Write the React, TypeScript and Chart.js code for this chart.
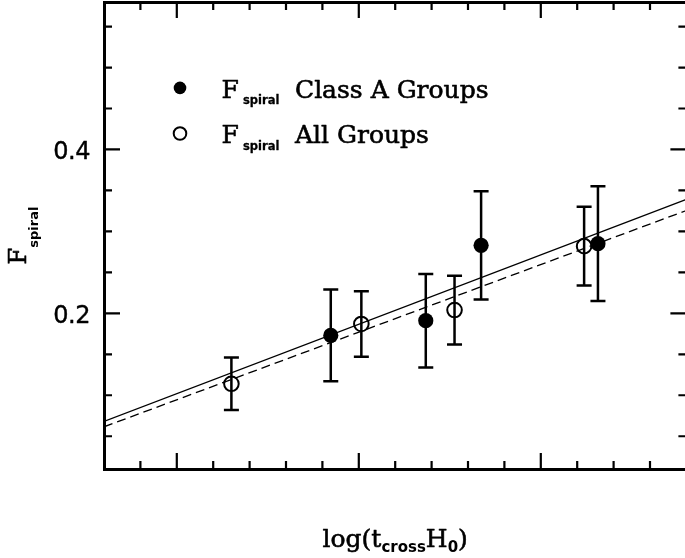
import React, { useEffect, useRef } from "react";
import { Chart, registerables } from "chart.js";

Chart.register(...registerables);

// ---- data ----
const CLASS_A_X = [-1.577, -1.316, -1.164, -0.843];
const CLASS_A_Y = [0.173, 0.191, 0.283, 0.285];
const CLASS_A_ERR = [0.056, 0.057, 0.066, 0.07];

const ALL_X = [-1.85, -1.493, -1.237, -0.881];
const ALL_Y = [0.114, 0.187, 0.204, 0.282];
const ALL_ERR = [0.032, 0.04, 0.042, 0.048];

const FIT_X = [-2.2, -0.6];
const FIT_SOLID_Y = [0.068, 0.339];
const FIT_DASHED_Y = [0.0615, 0.3255];

const X_RANGE = [-2.2, -0.6];
const Y_RANGE = [0.01, 0.58];
const X_MINOR_TICKS = [-2.1, -1.9, -1.8, -1.7, -1.6, -1.4, -1.3, -1.2, -1.1, -0.9, -0.8, -0.7];
const X_MAJOR_TICKS = [-2.0, -1.5, -1.0];
const Y_MINOR_TICKS = [0.05, 0.1, 0.15, 0.25, 0.3, 0.35, 0.45, 0.5, 0.55];
const Y_MAJOR_TICKS = [0.2, 0.4];
const Y_TICK_LABELS = ["0.2", "0.4"];

const LEGEND_LABELS = ["Class A Groups", "All Groups"];
const SYMBOL_NAME = "F";
const SYMBOL_SUB = "spiral";
const X_TITLE_PARTS = ["log(t", "cross", "H", "0", ")"];

// ---- styling ----
const SERIF = '"DejaVu Serif"';
const SANS = '"DejaVu Sans"';
const MAIN_FONT = `25px ${SERIF}`;
const SUB_FONT = `bold 11.5px ${SANS}`;

type Part = { text: string; font: string; dy: number; weight?: number };

function heavyText(ctx: CanvasRenderingContext2D, text: string, x: number, y: number, weight = 0) {
  ctx.fillText(text, x, y);
  if (weight > 0) {
    ctx.save();
    ctx.lineWidth = weight;
    ctx.lineJoin = "round";
    ctx.strokeText(text, x, y);
    ctx.restore();
  }
}

function drawRich(ctx: CanvasRenderingContext2D, parts: Part[], x: number, y: number, align: "left" | "center") {
  ctx.textBaseline = "alphabetic";
  ctx.textAlign = "left";
  const widths = parts.map((p) => {
    ctx.font = p.font;
    return ctx.measureText(p.text).width;
  });
  const total = widths.reduce((a, b) => a + b, 0);
  let cx = align === "center" ? x - total / 2 : x;
  parts.forEach((p, i) => {
    ctx.font = p.font;
    heavyText(ctx, p.text, cx, y + p.dy, p.weight ?? 0);
    cx += widths[i];
  });
}

const decorPlugin = {
  id: "decor",
  beforeDatasetsDraw(chart: any) {
    const { ctx, scales } = chart;
    const xs = scales.x;
    const ys = scales.y;
    ctx.save();
    ctx.strokeStyle = "#000";
    ctx.lineWidth = 2.5;
    const cap = 7.5;
    const bars = (X: number[], Y: number[], E: number[]) => {
      for (let i = 0; i < X.length; i++) {
        const px = xs.getPixelForValue(X[i]);
        const top = ys.getPixelForValue(Y[i] + E[i]);
        const bot = ys.getPixelForValue(Y[i] - E[i]);
        ctx.beginPath();
        ctx.moveTo(px, top);
        ctx.lineTo(px, bot);
        ctx.moveTo(px - cap, top);
        ctx.lineTo(px + cap, top);
        ctx.moveTo(px - cap, bot);
        ctx.lineTo(px + cap, bot);
        ctx.stroke();
      }
    };
    bars(CLASS_A_X, CLASS_A_Y, CLASS_A_ERR);
    bars(ALL_X, ALL_Y, ALL_ERR);
    ctx.restore();
  },
  afterDraw(chart: any) {
    const { ctx, scales, chartArea } = chart;
    const xs = scales.x;
    const ys = scales.y;
    const { left, right, top, bottom } = chartArea;
    ctx.save();
    ctx.strokeStyle = "#000";
    ctx.fillStyle = "#000";
    ctx.lineWidth = 2.2;
    ctx.lineCap = "butt";

    // inward tick marks on all four sides
    const xTick = (v: number, len: number) => {
      const px = xs.getPixelForValue(v);
      ctx.beginPath();
      ctx.moveTo(px, bottom);
      ctx.lineTo(px, bottom - len);
      ctx.moveTo(px, top);
      ctx.lineTo(px, top + len);
      ctx.stroke();
    };
    const yTick = (v: number, len: number) => {
      const py = ys.getPixelForValue(v);
      ctx.beginPath();
      ctx.moveTo(left, py);
      ctx.lineTo(left + len, py);
      ctx.moveTo(right, py);
      ctx.lineTo(right - len, py);
      ctx.stroke();
    };
    X_MINOR_TICKS.forEach((v) => xTick(v, 8));
    X_MAJOR_TICKS.forEach((v) => xTick(v, 16));
    Y_MINOR_TICKS.forEach((v) => yTick(v, 8));
    Y_MAJOR_TICKS.forEach((v) => yTick(v, 16));

    // y tick labels
    ctx.font = `24px ${SANS}`;
    ctx.textAlign = "right";
    ctx.textBaseline = "alphabetic";
    (ctx as any).letterSpacing = "-0.5px";
    Y_MAJOR_TICKS.forEach((v, i) => {
      const py = ys.getPixelForValue(v);
      heavyText(ctx, Y_TICK_LABELS[i], 90, py + 9.5, 0.4);
    });
    (ctx as any).letterSpacing = "0px";

    // x axis title
    drawRich(
      ctx,
      [
        { text: X_TITLE_PARTS[0], font: MAIN_FONT, dy: 0, weight: 0.6 },
        { text: X_TITLE_PARTS[1], font: `bold 15px ${SANS}`, dy: 5 },
        { text: X_TITLE_PARTS[2], font: MAIN_FONT, dy: 0, weight: 0.6 },
        { text: X_TITLE_PARTS[3], font: `bold 15px ${SANS}`, dy: 5 },
        { text: X_TITLE_PARTS[4], font: MAIN_FONT, dy: 0, weight: 0.6 },
      ],
      (left + right) / 2,
      547,
      "center"
    );

    // y axis title (rotated)
    ctx.save();
    ctx.translate(26, (top + bottom) / 2);
    ctx.rotate(-Math.PI / 2);
    drawRich(
      ctx,
      [
        { text: SYMBOL_NAME, font: `24px ${SERIF}`, dy: 0, weight: 0.6 },
        { text: SYMBOL_SUB, font: `bold 13px ${SANS}`, dy: 12 },
      ],
      0,
      0,
      "center"
    );
    ctx.restore();

    // legend
    const rows = [
      { y: 97.7, filled: true, label: LEGEND_LABELS[0] },
      { y: 143.3, filled: false, label: LEGEND_LABELS[1] },
    ];
    rows.forEach((r) => {
      const my = r.y - 9.8;
      ctx.beginPath();
      ctx.arc(180, my, 6.3, 0, Math.PI * 2);
      if (r.filled) {
        ctx.fill();
      } else {
        ctx.lineWidth = 2;
        ctx.stroke();
      }
      ctx.textAlign = "left";
      ctx.textBaseline = "alphabetic";
      ctx.font = MAIN_FONT;
      heavyText(ctx, SYMBOL_NAME, 221.5, r.y, 0.6);
      ctx.font = SUB_FONT;
      heavyText(ctx, SYMBOL_SUB, 243, r.y + 6.5, 0.3);
      ctx.font = MAIN_FONT;
      heavyText(ctx, r.label, 295, r.y, 0.6);
    });

    ctx.restore();
  },
};

export default function App() {
  const ref = useRef<HTMLCanvasElement | null>(null);

  useEffect(() => {
    if (!ref.current) return;
    const axisCommon = {
      type: "linear" as const,
      ticks: { display: false },
      grid: { display: false, drawTicks: false },
      border: { display: true, width: 3, color: "#000" },
    };
    const chart = new Chart(ref.current, {
      type: "scatter",
      data: {
        datasets: [
          {
            label: "fit all",
            data: FIT_X.map((x, i) => ({ x, y: FIT_DASHED_Y[i] })),
            showLine: true,
            borderColor: "#000",
            borderWidth: 1.3,
            borderDash: [9, 5],
            pointRadius: 0,
          },
          {
            label: "fit class A",
            data: FIT_X.map((x, i) => ({ x, y: FIT_SOLID_Y[i] })),
            showLine: true,
            borderColor: "#000",
            borderWidth: 1.3,
            pointRadius: 0,
          },
          {
            label: "F_spiral All Groups",
            data: ALL_X.map((x, i) => ({ x, y: ALL_Y[i] })),
            pointRadius: 7.3,
            pointBorderWidth: 2,
            borderColor: "#000",
            backgroundColor: "rgba(0,0,0,0)",
          },
          {
            label: "F_spiral Class A Groups",
            data: CLASS_A_X.map((x, i) => ({ x, y: CLASS_A_Y[i] })),
            pointRadius: 7.6,
            pointBorderWidth: 0,
            borderColor: "#000",
            backgroundColor: "#000",
          },
        ],
      },
      options: {
        animation: false,
        responsive: false,
        devicePixelRatio: 1,
        layout: { autoPadding: false, padding: { left: 104, right: 13.6, top: 2, bottom: 89 } },
        plugins: { legend: { display: false }, tooltip: { enabled: false } },
        scales: {
          x: { ...axisCommon, position: "bottom", min: X_RANGE[0], max: X_RANGE[1] },
          x2: { ...axisCommon, axis: "x", position: "top", min: X_RANGE[0], max: X_RANGE[1] },
          y: { ...axisCommon, position: "left", min: Y_RANGE[0], max: Y_RANGE[1] },
          y2: { ...axisCommon, axis: "y", position: "right", min: Y_RANGE[0], max: Y_RANGE[1] },
        },
      },
      plugins: [decorPlugin],
    } as any);
    return () => chart.destroy();
  }, []);

  return (
    <div
      style={{
        position: "fixed",
        left: 0,
        top: 0,
        width: 685,
        height: 558,
        overflow: "hidden",
        background: "#fff",
      }}
    >
      <canvas ref={ref} width={700} height={558} style={{ display: "block" }} />
    </div>
  );
}
